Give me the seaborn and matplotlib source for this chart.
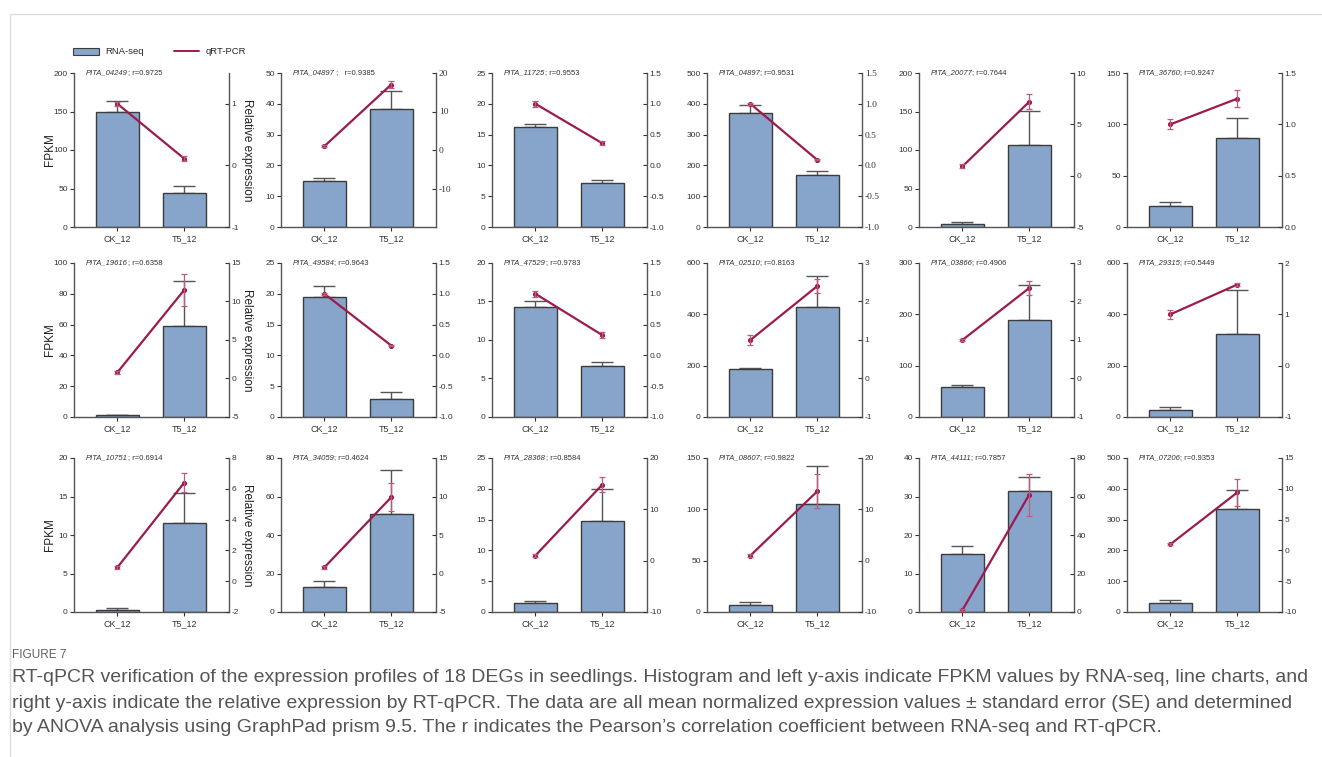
"""
qRT-PCR vs RNA-seq : barres FPKM + courbe d'expression relative (18 DEGs).
"""

import numpy as np
import pandas as pd
import seaborn as sns
import matplotlib.pyplot as plt
from matplotlib.lines import Line2D
from matplotlib.patches import Patch
from matplotlib.transforms import offset_copy

groups = ["CK_12", "T5_12"]

genes = ["PITA_04249", "PITA_04897", "PITA_11725", "PITA_04897", "PITA_20077", "PITA_36760",
         "PITA_19616", "PITA_49584", "PITA_47529", "PITA_02510", "PITA_03866", "PITA_29315",
         "PITA_10751", "PITA_34059", "PITA_28368", "PITA_08607", "PITA_44111", "PITA_07206"]
r_values = ["0.9725", "0.9385", "0.9553", "0.9531", "0.7644", "0.9247",
            "0.6358", "0.9643", "0.9783", "0.8163", "0.4906", "0.5449",
            "0.6914", "0.4624", "0.8584", "0.9822", "0.7857", "0.9353"]

# FPKM (RNA-seq), moyenne + erreur (vers le haut)
fpkm_ck = [150, 15.0, 16.2, 370, 4.3, 20.5, 1.0, 19.4, 14.35, 188, 59, 28.6, 0.2, 12.9, 1.5, 6.5, 15.0, 30.3]
fpkm_ck_err = [13, 0.9, 0.5, 27, 2.7, 3.5, 0.5, 1.8, 0.75, 3, 3, 10, 0.3, 3.4, 0.3, 2.9, 2.2, 7.6]
fpkm_t5 = [44, 38.3, 7.2, 168, 107, 86.7, 59, 2.9, 6.6, 427, 189, 325, 11.56, 51.1, 14.7, 105, 31.3, 335.5]
fpkm_t5_err = [9.5, 5.7, 0.5, 13, 44, 19.8, 29.5, 1.1, 0.6, 121, 69, 170, 3.84, 22.6, 5.2, 37, 3.75, 59.5]

# expression relative (qRT-PCR)
qpcr_ck = [1.0, 1.0, 1.0, 1.0, 0.9, 1.0, 0.8, 1.0, 1.0, 1.0, 1.0, 1.0, 0.9, 0.8, 1.0, 1.0, 1.0, 1.0]
qpcr_ck_err = [0.03, 0.3, 0.05, 0.02, 0.2, 0.05, 0.2, 0.02, 0.05, 0.12, 0.02, 0.09, 0.1, 0.2, 0.3, 0.3, 0.3, 0.2]
qpcr_t5 = [0.11, 17.0, 0.36, 0.09, 7.2, 1.25, 11.5, 0.16, 0.33, 2.4, 2.35, 1.58, 6.4, 9.9, 14.8, 13.5, 61.0, 9.4]
qpcr_t5_err = [0.04, 1.0, 0.03, 0.01, 0.75, 0.08, 2.1, 0.01, 0.05, 0.18, 0.18, 0.03, 0.6, 1.8, 1.5, 3.3, 10.9, 2.2]

# axes
left_max = [200, 50, 25, 500, 200, 150, 100, 25, 20, 600, 300, 600, 20, 80, 25, 150, 40, 500]
left_step = [50, 10, 5, 100, 50, 50, 20, 5, 5, 200, 100, 200, 5, 20, 5, 50, 10, 100]
right_lim = [(-1, 1.5), (-20, 20), (-1, 1.5), (-1, 1.5), (-5, 10), (0, 1.5),
             (-5, 15), (-1, 1.5), (-1, 1.5), (-1, 3), (-1, 3), (-1, 2),
             (-2, 8), (-5, 15), (-10, 20), (-10, 20), (0, 80), (-10, 15)]
right_ticks = [[-1, 0, 1], [-10, 0, 10, 20], [-1, -0.5, 0, 0.5, 1, 1.5], [-1, -0.5, 0, 0.5, 1, 1.5],
               [-5, 0, 5, 10], [0, 0.5, 1, 1.5], [-5, 0, 5, 10, 15], [-1, -0.5, 0, 0.5, 1, 1.5],
               [-1, -0.5, 0, 0.5, 1, 1.5], [-1, 0, 1, 2, 3], [-1, 0, 1, 2, 3], [-1, 0, 1, 2],
               [-2, 0, 2, 4, 6, 8], [-5, 0, 5, 10, 15], [-10, 0, 10, 20], [-10, 0, 10, 20],
               [0, 20, 40, 60, 80], [-10, -5, 0, 5, 10, 15]]
right_decimals = [0, 0, 1, 1, 0, 1, 0, 1, 1, 0, 0, 0, 0, 0, 0, 0, 0, 0]
right_serif = [False, True, False, True, False, False] + [False] * 12

caption_title = "FIGURE 7"
caption_lines = [
    "RT-qPCR verification of the expression profiles of 18 DEGs in seedlings. Histogram and left y-axis indicate FPKM values by RNA-seq, line charts, and",
    "right y-axis indicate the relative expression by RT-qPCR. The data are all mean normalized expression values \u00b1 standard error (SE) and determined",
    "by ANOVA analysis using GraphPad prism 9.5. The r indicates the Pearson\u2019s correlation coefficient between RNA-seq and RT-qPCR.",
]

BAR_COLOR = "#87A5CB"
LINE_COLOR = "#9B1B4E"
LINE_ERR = "#BE5A80"

W, H = 1322, 757
sns.set_theme(style="ticks")
plt.rcParams["font.family"] = ["Liberation Sans", "DejaVu Sans"]

fig = plt.figure(figsize=(W / 100, H / 100), dpi=100)
fig.patch.set_facecolor("white")
renderer = fig.canvas.get_renderer()

col_left = [74, 281, 492, 707, 919, 1127]
row_top = [73, 263, 458]
aw, ah = 155, 154

for i in range(18):
    row, col = divmod(i, 6)
    ax = fig.add_axes([col_left[col] / W, 1 - (row_top[row] + ah) / H, aw / W, ah / H])

    df = pd.DataFrame({"group": groups, "fpkm": [fpkm_ck[i], fpkm_t5[i]]})
    sns.barplot(data=df, x="group", y="fpkm", ax=ax, color=BAR_COLOR, width=0.65,
                edgecolor="#3c3c3c", linewidth=1.0, errorbar=None, saturation=1, zorder=2)
    ax.errorbar([0, 1], df["fpkm"], yerr=[[0, 0], [fpkm_ck_err[i], fpkm_t5_err[i]]],
                fmt="none", ecolor="#555555", elinewidth=1.0, capsize=8, capthick=1.0, zorder=1)

    ax2 = ax.twinx()
    sns.pointplot(x=groups, y=[qpcr_ck[i], qpcr_t5[i]], ax=ax2, color=LINE_COLOR,
                  markersize=2.5, linewidth=1.6, errorbar=None)
    ax2.errorbar([0, 1], [qpcr_ck[i], qpcr_t5[i]], yerr=[qpcr_ck_err[i], qpcr_t5_err[i]],
                 fmt="none", ecolor=LINE_ERR, elinewidth=0.9, capsize=2, capthick=0.9)

    ax.set_xlim(-0.65, 1.67)
    ax.set_ylim(0, left_max[i])
    ax.set_yticks(np.arange(0, left_max[i] + left_step[i] / 2, left_step[i]))
    ax.set_xlabel("")
    ax.set_ylabel("")
    ax.tick_params(axis="y", labelsize=6, length=3, width=0.8, pad=1.5, colors="#333333")
    ax.tick_params(axis="x", labelsize=6.5, length=3, width=0.8, pad=2, colors="#333333")
    for s in ["top", "right"]:
        ax.spines[s].set_visible(False)
    for s in ["left", "bottom"]:
        ax.spines[s].set_color("#555555")
        ax.spines[s].set_linewidth(1.0)

    ax2.set_ylim(*right_lim[i])
    ax2.set_yticks(right_ticks[i])
    fmt = "{:.1f}" if right_decimals[i] else "{:.0f}"
    ax2.set_yticklabels([fmt.format(t) for t in right_ticks[i]])
    ax2.set_ylabel("")
    ax2.tick_params(axis="y", direction="in", labelsize=6, length=3, width=0.8, pad=2,
                    colors="#333333")
    if right_serif[i]:
        for lab in ax2.get_yticklabels():
            lab.set_family("Liberation Serif")
            lab.set_fontsize(6.8)
    for s in ["top", "left", "bottom"]:
        ax2.spines[s].set_visible(False)
    ax2.spines["right"].set_color("#555555")
    ax2.spines["right"].set_linewidth(1.0)

    # nom du gène en italique, puis r
    t_gene = ax.text(0.075, 1.0, genes[i], transform=ax.transAxes, ha="left", va="center",
                     fontsize=5.5, style="italic", color="#333333")
    gw = t_gene.get_window_extent(renderer=renderer).width
    sep = " ;   " if i == 1 else "; "
    ax.text(0.075, 1.0, sep + "r=" + r_values[i], ha="left", va="center", fontsize=5.5,
            color="#333333", transform=offset_copy(ax.transAxes, fig=fig, x=gw, y=0, units="dots"))

    if col == 0:
        ax.text(-0.155, 0.5, "FPKM", transform=ax.transAxes, rotation=90,
                ha="center", va="center", fontsize=8.5, color="#222222")
        ax2.text(1.115, 0.5, "Relative expression", transform=ax2.transAxes, rotation=270,
                 ha="center", va="center", fontsize=8.5, color="#222222")

# légende
handles = [Patch(facecolor=BAR_COLOR, edgecolor="#3c3c3c", linewidth=0.8),
           Line2D([], [], color=LINE_COLOR, linewidth=1.4)]
fig.legend(handles, ["RNA-seq", "qRT-PCR"], loc="center left",
           bbox_to_anchor=(73 / W, 1 - 52 / H), ncol=2, frameon=False, fontsize=6.8,
           handlelength=2.7, handleheight=0.8, handletextpad=0.7, columnspacing=3.2,
           borderpad=0, borderaxespad=0)

# cadre et légende de figure
fig.add_artist(Line2D([10 / W, 1], [1 - 14 / H, 1 - 14 / H], color="#dcdcdc", linewidth=1.0))
fig.add_artist(Line2D([10 / W, 10 / W], [1 - 14 / H, 0], color="#dcdcdc", linewidth=1.0))

fig.text(12 / W, 1 - 655 / H, caption_title, fontsize=8.5, color="#606060",
         va="center", ha="left")
for k, line in enumerate(caption_lines):
    fig.text(12 / W, 1 - (678 + 25 * k) / H, line, fontsize=14.0, color="#555555",
             va="center", ha="left")

fig.savefig("out.png", dpi=100)
